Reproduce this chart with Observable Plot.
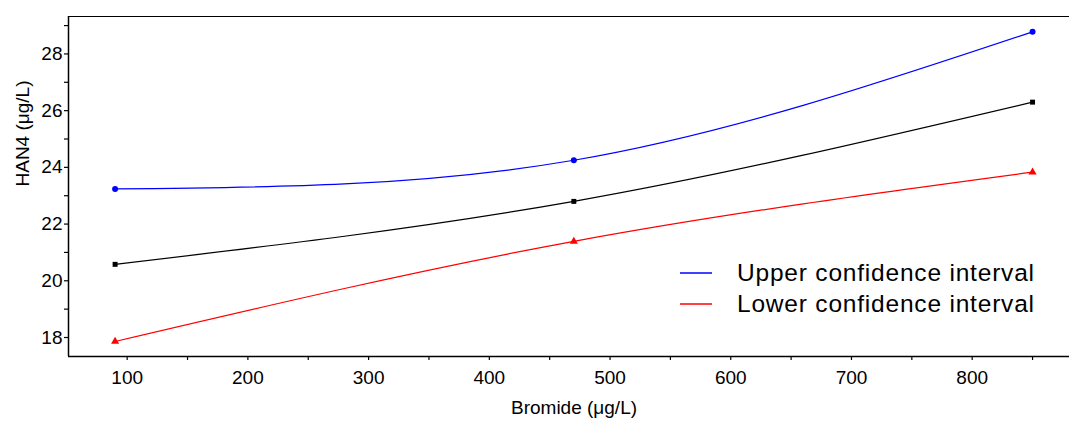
<!DOCTYPE html>
<html>
<head>
<meta charset="utf-8">
<script src="https://cdn.jsdelivr.net/npm/d3@7"></script>
<script src="https://cdn.jsdelivr.net/npm/@observablehq/plot@0.6"></script>
<style>
  body { margin: 0; background: #fff; }
  #wrap { position: relative; width: 1069px; height: 421px; font-family: "Liberation Sans", Arial, sans-serif; }
  #legend { position: absolute; left: 680px; top: 257px; font-size: 24.5px; letter-spacing: 0.8px; color: #000; line-height: 31px; }
  #legend .row { display: flex; align-items: center; white-space: nowrap; height: 31px; }
  #legend svg { margin-right: 25px; display: block; }
</style>
</head>
<body>
<div id="wrap"></div>
<script>
const bromide = [90, 470, 850];
const meanHAN4 = [20.58, 22.80, 26.30];
const upperCI = [23.24, 24.25, 28.78];
const lowerCI = [17.86, 21.39, 23.83];
const xMajorTicks = [100, 200, 300, 400, 500, 600, 700, 800];
const xMinorTicks = [150, 250, 350, 450, 550, 650, 750, 850];
const yMajorTicks = [18, 20, 22, 24, 26, 28];
const yMinorTicks = [19, 21, 23, 25, 27, 29];
const xDomain = [51.4, 880.6];
const yDomain = [17.33, 29.32];
const legendItems = [
  {label: "Upper confidence interval", color: "#0000ff"},
  {label: "Lower confidence interval", color: "#ff0000"}
];

const mk = (ys) => bromide.map((x, i) => ({x, y: ys[i]}));
const mean = mk(meanHAN4), up = mk(upperCI), lo = mk(lowerCI);

const chart = Plot.plot({
  width: 1069,
  height: 421,
  marginLeft: 68,
  marginRight: 0,
  marginTop: 16,
  marginBottom: 65,
  style: {fontFamily: "Liberation Sans, Arial, sans-serif", fontSize: "19px", color: "#000", background: "#fff"},
  x: {domain: xDomain},
  y: {domain: yDomain},
  marks: [
    Plot.axisX({ticks: xMajorTicks, tickSize: 4, tickPadding: 10, label: null, stroke: "#000", strokeWidth: 1.2}),
    Plot.axisX({ticks: xMinorTicks, tickSize: 4, tickFormat: () => "", label: null, stroke: "#000", strokeWidth: 1.2}),
    Plot.axisY({ticks: yMajorTicks, tickSize: 4, tickPadding: 2, label: null, stroke: "#000", strokeWidth: 1.2}),
    Plot.axisY({ticks: yMinorTicks, tickSize: 4, tickFormat: () => "", label: null, stroke: "#000", strokeWidth: 1.2}),
    Plot.ruleY([yDomain[0]], {stroke: "#000", strokeWidth: 1.5}),
    Plot.ruleY([yDomain[1]], {stroke: "#000", strokeWidth: 1.2}),
    Plot.ruleX([xDomain[0]], {stroke: "#000", strokeWidth: 1.5}),
    Plot.line(up, {x: "x", y: "y", curve: "natural", stroke: "#0000ff", strokeWidth: 1.2}),
    Plot.line(mean, {x: "x", y: "y", curve: "natural", stroke: "#000", strokeWidth: 1.2}),
    Plot.line(lo, {x: "x", y: "y", curve: "natural", stroke: "#ff0000", strokeWidth: 1.2}),
    Plot.dot(up, {x: "x", y: "y", symbol: "circle", r: 3, fill: "#0000ff", stroke: "none"}),
    Plot.dot(mean, {x: "x", y: "y", symbol: "square", r: 2.8, fill: "#000", stroke: "none"}),
    Plot.dot(lo, {x: "x", y: "y", symbol: "triangle", r: 3, fill: "#ff0000", stroke: "none"}),
    Plot.text(["HAN4 (μg/L)"], {frameAnchor: "left", dx: -46, rotate: -90, fontSize: 19, fill: "#000"}),
    Plot.text(["Bromide (μg/L)"], {frameAnchor: "bottom", dx: 5, dy: 57, fontSize: 19, fill: "#000"})
  ]
});

const wrap = document.getElementById("wrap");
wrap.appendChild(chart);
const lg = document.createElement("div");
lg.id = "legend";
const ns = "http://www.w3.org/2000/svg";
for (const it of legendItems) {
  const row = document.createElement("div");
  row.className = "row";
  const svg = document.createElementNS(ns, "svg");
  svg.setAttribute("width", "32");
  svg.setAttribute("height", "4");
  const ln = document.createElementNS(ns, "line");
  ln.setAttribute("x1", "0"); ln.setAttribute("x2", "32");
  ln.setAttribute("y1", "2"); ln.setAttribute("y2", "2");
  ln.setAttribute("stroke", it.color);
  ln.setAttribute("stroke-width", "1.5");
  svg.appendChild(ln);
  const t = document.createElement("span");
  t.textContent = it.label;
  row.appendChild(svg); row.appendChild(t);
  lg.appendChild(row);
}
wrap.appendChild(lg);
</script>
</body>
</html>
